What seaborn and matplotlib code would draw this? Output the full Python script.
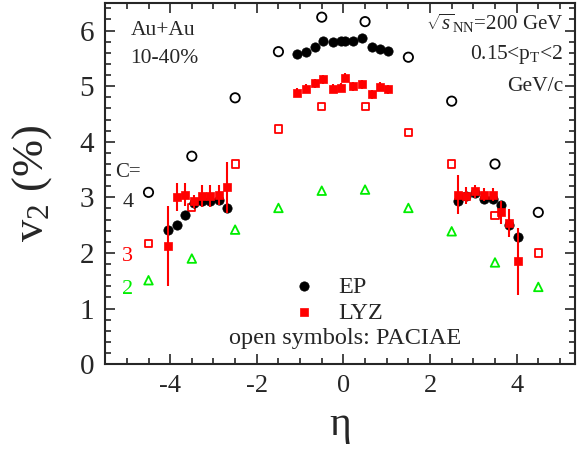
import numpy as np
import matplotlib
matplotlib.use("Agg")
import matplotlib.pyplot as plt
import seaborn as sns
from matplotlib.ticker import MultipleLocator

# EP and LYZ measurements (eta, v2 in %)
eta_data = [-4.05, -3.85, -3.66, -3.46, -3.26, -3.07, -2.87, -2.68,
            -1.06, -0.86, -0.65, -0.46, -0.25, -0.06, 0.04, 0.23, 0.44, 0.65, 0.84, 1.04,
            2.64, 2.84, 3.05, 3.24, 3.45, 3.64, 3.83, 4.04]
v2_ep = [2.41, 2.50, 2.69, 2.89, 2.94, 2.94, 2.96, 2.80,
         5.58, 5.62, 5.71, 5.82, 5.79, 5.81, 5.81, 5.81, 5.86, 5.71, 5.66, 5.64,
         2.93, 3.02, 3.07, 2.97, 2.97, 2.87, 2.50, 2.29]
v2_lyz = [2.12, 3.00, 3.05, 2.93, 3.03, 3.03, 3.05, 3.18,
          4.88, 4.95, 5.05, 5.12, 4.95, 4.97, 5.15, 5.00, 5.03, 4.85, 4.99, 4.94,
          3.05, 3.03, 3.11, 3.05, 3.05, 2.73, 2.54, 1.85]
err_lyz = [0.72, 0.25, 0.20, 0.12, 0.20, 0.20, 0.18, 0.46,
           0.08, 0.08, 0.08, 0.08, 0.08, 0.08, 0.08, 0.08, 0.08, 0.08, 0.08, 0.08,
           0.35, 0.15, 0.12, 0.12, 0.12, 0.20, 0.25, 0.60]

# PACIAE model for C = 4, 3, 2
eta_model = [-4.5, -3.5, -2.5, -1.5, -0.5, 0.5, 1.5, 2.5, 3.5, 4.5]
v2_c4 = [3.09, 3.74, 4.79, 5.62, 6.24, 6.16, 5.52, 4.73, 3.60, 2.73]
v2_c3 = [2.17, 2.82, 3.60, 4.23, 4.63, 4.63, 4.17, 3.60, 2.67, 2.00]
v2_c2 = [1.51, 1.90, 2.42, 2.81, 3.12, 3.14, 2.81, 2.39, 1.83, 1.39]

RED = "#ff0000"
GREEN = "#00ee00"

sns.set_style("ticks")
plt.rcParams["font.family"] = ["Liberation Serif", "DejaVu Serif"]
plt.rcParams["mathtext.fontset"] = "custom"
plt.rcParams["mathtext.rm"] = "Liberation Serif"
plt.rcParams["mathtext.it"] = "Liberation Serif:italic"
plt.rcParams["axes.unicode_minus"] = False

fig = plt.figure(figsize=(5.78, 4.53), dpi=100)
ax = fig.add_axes([0.182, 0.196, 0.813, 0.798])

# model (open symbols)
sns.scatterplot(x=eta_model, y=v2_c4, marker="o", s=45, color="none",
                edgecolor="black", linewidth=1.3, ax=ax, zorder=3)
sns.scatterplot(x=eta_model, y=v2_c3, marker="s", s=26, color="none",
                edgecolor=RED, linewidth=1.3, ax=ax, zorder=3)
sns.scatterplot(x=eta_model, y=v2_c2, marker="^", s=38, color="none",
                edgecolor=GREEN, linewidth=1.3, ax=ax, zorder=3)

# data
sns.scatterplot(x=eta_data, y=v2_ep, marker="o", s=45, color="black",
                edgecolor="black", linewidth=0.5, ax=ax, zorder=4, label="EP")
ax.errorbar(eta_data, v2_lyz, yerr=err_lyz, fmt="none", ecolor=RED,
            elinewidth=1.5, capsize=0, zorder=5)
sns.scatterplot(x=eta_data, y=v2_lyz, marker="s", s=30, color=RED,
                edgecolor=RED, linewidth=0.5, ax=ax, zorder=6, label="LYZ")

ax.set_xlim(-5.5, 5.35)
ax.set_ylim(0, 6.5)
ax.xaxis.set_major_locator(MultipleLocator(2))
ax.xaxis.set_minor_locator(MultipleLocator(0.5))
ax.yaxis.set_major_locator(MultipleLocator(1))
ax.yaxis.set_minor_locator(MultipleLocator(0.2))
ax.tick_params(which="both", direction="in", top=True, right=True, width=1.2)
ax.tick_params(which="major", length=7)
ax.tick_params(which="minor", length=4)
ax.tick_params(axis="y", labelsize=21, pad=8)
ax.tick_params(axis="x", labelsize=19, pad=8)
for sp in ax.spines.values():
    sp.set_linewidth(1.5)

ax.set_xlabel("η", fontsize=30, labelpad=6)
ax.set_ylabel(r"v$_{2}$ (%)", fontsize=32, labelpad=18)

leg = ax.legend(loc="upper left", bbox_to_anchor=(0.325, 0.305), frameon=False,
                fontsize=17.5, handletextpad=0.4, labelspacing=0.15,
                markerscale=1.0)

ax.text(0.03, 0.46, "open symbols: PACIAE", ha="center", va="center", fontsize=17.5)
ax.text(-4.92, 6.0, "Au+Au", ha="left", va="center", fontsize=15.5)
ax.text(-4.92, 5.49, "10-40%", ha="left", va="center", fontsize=15.5)
ax.text(5.07, 6.12, r"$\sqrt{s}_{\rm NN}$=200 GeV", ha="right", va="center", fontsize=15)
ax.text(5.07, 5.56, r"0.15<p$_{\rm T}$<2", ha="right", va="center", fontsize=15.5)
ax.text(5.07, 5.0, "GeV/c", ha="right", va="center", fontsize=15.5)
ax.text(-5.26, 3.45, "C=", ha="left", va="center", fontsize=15)
ax.text(-4.98, 2.91, "4", ha="center", va="center", fontsize=16)
ax.text(-4.98, 1.94, "3", ha="center", va="center", fontsize=16, color=RED)
ax.text(-4.98, 1.35, "2", ha="center", va="center", fontsize=16, color=GREEN)

plt.savefig("out.png", dpi=100)
